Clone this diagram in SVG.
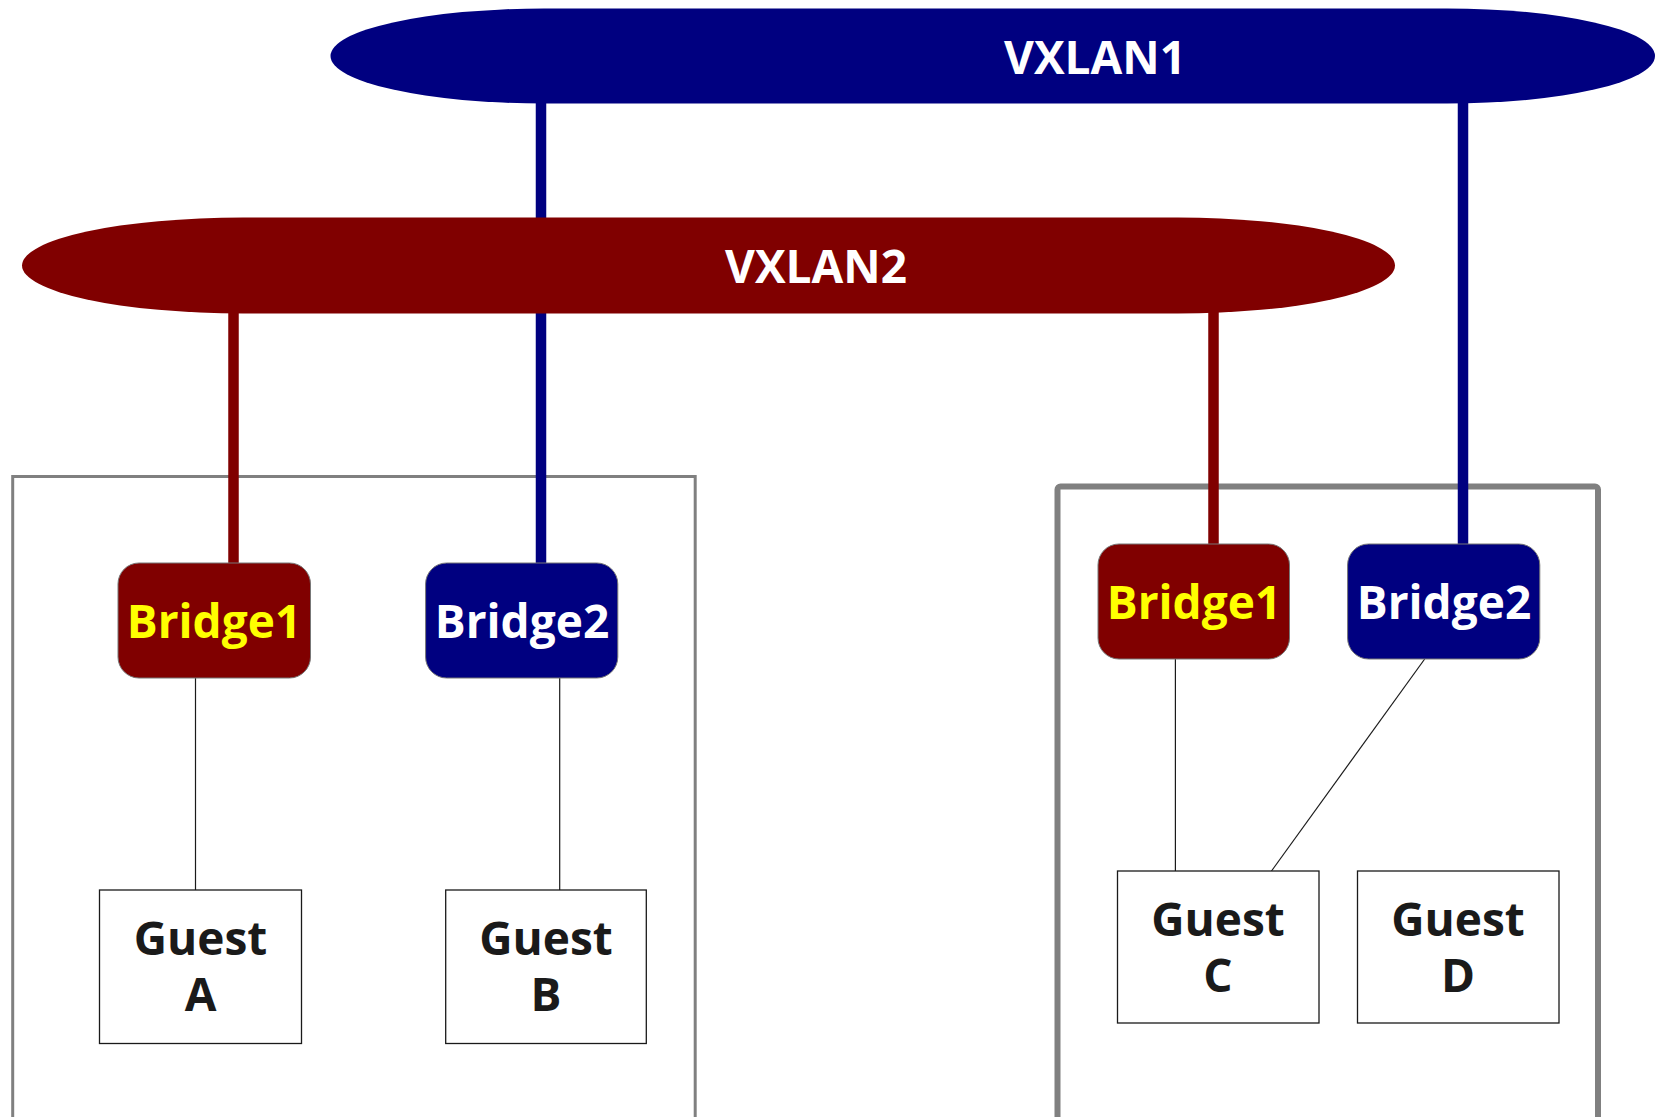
<svg xmlns="http://www.w3.org/2000/svg" width="1656" height="1117" viewBox="0 0 1656 1117">
<style>
.lbl{font-family:"Open Sans","Noto Sans","DejaVu Sans",sans-serif;font-weight:bold;text-anchor:middle}
.host{fill:none;stroke:#808080}
.bridge{stroke:#777;stroke-width:1}
.guest{fill:#fff;stroke:#1a1a1a;stroke-width:1.3}
.thin{stroke:#1a1a1a;stroke-width:1.2;fill:none}
.thickb{stroke:#000080;stroke-width:10.5;fill:none}
.thickr{stroke:#800000;stroke-width:10.5;fill:none}
.g{font-size:46px;fill:#1a1a1a}
</style>
<rect width="1656" height="1117" fill="#fff"/>
<g id="hostLeft"><rect class="host" x="12.7" y="476.5" width="682.5" height="700" stroke-width="3"/></g>
<g id="hostRight"><rect class="host" x="1057.5" y="486.5" width="540.5" height="700" rx="3" stroke-width="6"/></g>
<g id="connectors">
<line class="thickb" x1="541" y1="100" x2="541" y2="564"/>
<line class="thickb" x1="1463" y1="100" x2="1463" y2="545"/>
<line class="thickr" x1="233.5" y1="310" x2="233.5" y2="564"/>
<line class="thickr" x1="1213.5" y1="310" x2="1213.5" y2="545"/>
<line class="thin" x1="195.5" y1="678" x2="195.5" y2="890"/>
<line class="thin" x1="559.7" y1="678" x2="559.7" y2="890"/>
<line class="thin" x1="1175.4" y1="659" x2="1175.4" y2="871"/>
<line class="thin" x1="1424.7" y1="659" x2="1271.5" y2="871"/>
</g>
<g id="vxlan1">
<path d="M544,8.5 L1447,8.5 A208,47.5 0 0 1 1447,103.5 L544,103.5 A213.5,47.5 0 0 1 544,8.5 Z" fill="#000080"/>
<text class="lbl" x="1095" y="74" font-size="46" fill="#fff">VXLAN1</text>
</g>
<g id="vxlan2">
<path d="M243,217.5 L1178,217.5 A217,48 0 0 1 1178,313.5 L243,313.5 A221,48 0 0 1 243,217.5 Z" fill="#800000"/>
<text class="lbl" x="816" y="283" font-size="46" fill="#fff">VXLAN2</text>
</g>
<g id="bridge1Left"><rect class="bridge" x="118" y="563" width="192.5" height="115" rx="21" fill="#800000"/>
<text class="lbl" x="214" y="638" font-size="46" fill="#ffff00">Bridge1</text></g>
<g id="bridge2Left"><rect class="bridge" x="425.6" y="563" width="192.2" height="115" rx="21" fill="#000080"/>
<text class="lbl" x="522" y="638" font-size="46" fill="#fff">Bridge2</text></g>
<g id="bridge1Right"><rect class="bridge" x="1098" y="544" width="191.5" height="115" rx="21" fill="#800000"/>
<text class="lbl" x="1194" y="619" font-size="46" fill="#ffff00">Bridge1</text></g>
<g id="bridge2Right"><rect class="bridge" x="1347.6" y="544" width="192.2" height="115" rx="21" fill="#000080"/>
<text class="lbl" x="1444" y="619" font-size="46" fill="#fff">Bridge2</text></g>
<g id="guestA"><rect class="guest" x="99.5" y="890" width="202" height="153.5"/>
<text class="lbl g" x="200.5" y="955">Guest</text>
<text class="lbl g" x="200.5" y="1011">A</text></g>
<g id="guestB"><rect class="guest" x="445.7" y="890" width="200.6" height="153.5"/>
<text class="lbl g" x="546" y="955">Guest</text>
<text class="lbl g" x="546" y="1011">B</text></g>
<g id="guestC"><rect class="guest" x="1117.5" y="871" width="201.5" height="152"/>
<text class="lbl g" x="1218" y="936">Guest</text>
<text class="lbl g" x="1218" y="992">C</text></g>
<g id="guestD"><rect class="guest" x="1357.5" y="871" width="201.5" height="152"/>
<text class="lbl g" x="1458" y="936">Guest</text>
<text class="lbl g" x="1458" y="992">D</text></g>
</svg>
